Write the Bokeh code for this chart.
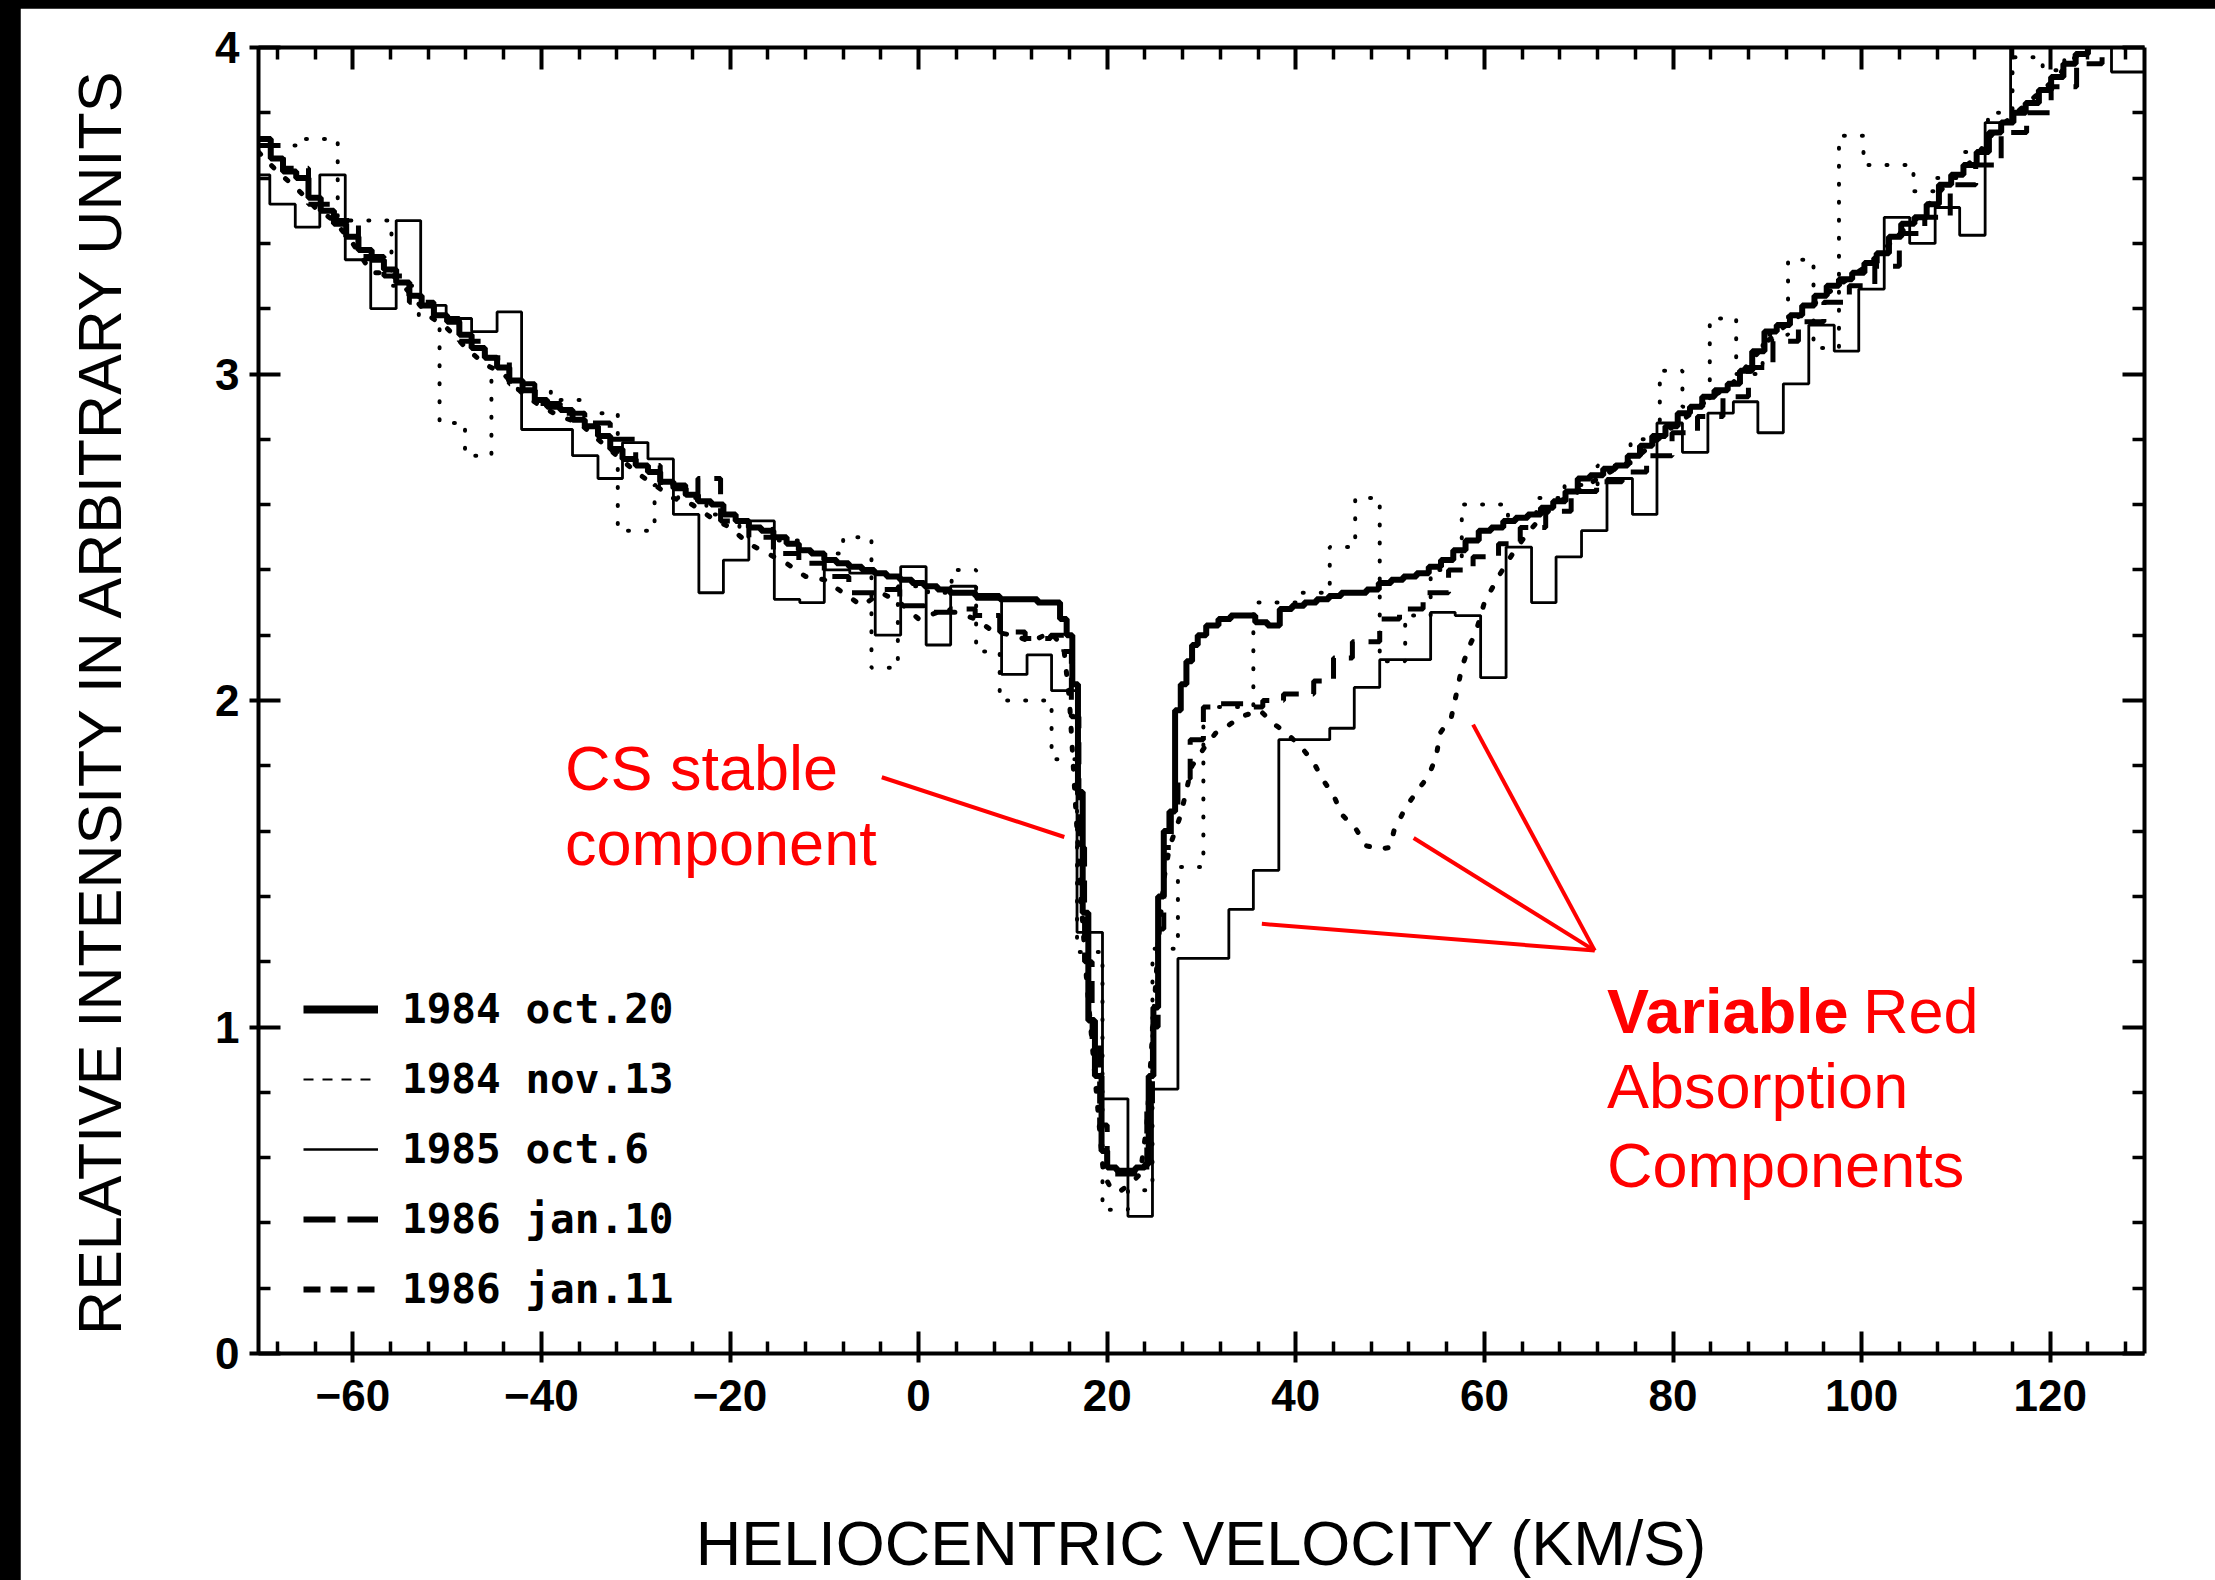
import re

from bokeh.plotting import figure
from bokeh.models import (Range1d, FixedTicker, LinearAxis, Label, Legend, LegendItem,
                          CustomJSTickFormatter)
from bokeh.embed import file_html
from bokeh.resources import INLINE

# ---------------------------------------------------------------------------
# Heliocentric velocity (km/s) and relative intensity for each observing date
# ---------------------------------------------------------------------------

# 1984 oct.20 (heavy solid step profile)
vel_oct20 = [-70.0, -68.7, -67.4, -66.0, -64.7, -63.4, -62.0, -60.7, -59.4, -58.0,
             -56.7, -55.4, -54.0, -52.7, -51.4, -50.0, -48.7, -47.4, -46.0, -44.7,
             -43.4, -42.0, -40.7, -39.4, -38.0, -36.7, -35.4, -34.0, -32.7, -31.4,
             -30.0, -28.7, -27.4, -26.0, -24.7, -23.4, -22.0, -20.7, -19.4, -18.0,
             -16.7, -15.4, -14.0, -12.7, -11.4, -10.0, -8.7, -7.4, -6.0, -4.7,
             -3.4, -2.0, -0.7, 0.6, 2.0, 3.3, 4.6, 6.0, 7.3, 8.6,
             10.0, 11.3, 12.6, 14.0, 15.0, 15.7, 16.3, 16.9, 17.4, 18.0,
             18.7, 19.4, 20.0, 21.0, 22.0, 23.0, 24.0, 24.4, 24.9, 25.4,
             26.0, 26.6, 27.2, 27.8, 28.4, 29.0, 29.6, 30.5, 31.8, 33.1,
             34.4, 35.7, 37.0, 38.3, 39.6, 40.9, 42.2, 43.5, 44.8, 46.2,
             47.5, 48.8, 50.1, 51.4, 52.8, 54.1, 55.4, 56.7, 58.0, 59.4,
             60.7, 62.0, 63.3, 64.6, 66.0, 67.3, 68.6, 69.9, 71.2, 72.6,
             73.9, 75.2, 76.5, 77.8, 79.2, 80.5, 81.8, 83.1, 84.4, 85.8,
             87.1, 88.4, 89.7, 91.0, 92.4, 93.7, 95.0, 96.3, 97.6, 99.0,
             100.3, 101.6, 102.9, 104.2, 105.6, 106.9, 108.2, 109.5, 110.8, 112.2,
             113.5, 114.8, 116.1, 117.4, 118.8, 120.1, 121.4, 122.7, 124.0, 125.3,
             130.0]
int_oct20 = [3.72, 3.66, 3.62, 3.60, 3.54, 3.50, 3.46, 3.42, 3.38, 3.35,
             3.32, 3.28, 3.24, 3.21, 3.18, 3.16, 3.12, 3.08, 3.05, 3.02,
             2.98, 2.95, 2.92, 2.90, 2.89, 2.86, 2.84, 2.81, 2.77, 2.74,
             2.72, 2.70, 2.67, 2.65, 2.63, 2.61, 2.60, 2.57, 2.55, 2.53,
             2.52, 2.50, 2.48, 2.46, 2.45, 2.43, 2.42, 2.41, 2.40, 2.39,
             2.38, 2.37, 2.36, 2.35, 2.34, 2.33, 2.33, 2.32, 2.32, 2.31,
             2.31, 2.31, 2.30, 2.30, 2.25, 2.20, 2.05, 1.72, 1.35, 1.02,
             0.85, 0.62, 0.57, 0.56, 0.56, 0.57, 0.58, 0.85, 1.06, 1.40,
             1.60, 1.66, 1.97, 2.05, 2.12, 2.17, 2.20, 2.23, 2.25, 2.26,
             2.26, 2.24, 2.23, 2.28, 2.29, 2.30, 2.31, 2.32, 2.33, 2.33,
             2.34, 2.36, 2.37, 2.38, 2.39, 2.41, 2.43, 2.46, 2.49, 2.52,
             2.53, 2.55, 2.56, 2.57, 2.59, 2.61, 2.64, 2.68, 2.69, 2.71,
             2.72, 2.75, 2.78, 2.81, 2.84, 2.88, 2.90, 2.93, 2.95, 2.97,
             3.01, 3.07, 3.13, 3.15, 3.18, 3.21, 3.24, 3.27, 3.29, 3.31,
             3.34, 3.37, 3.42, 3.46, 3.48, 3.52, 3.58, 3.61, 3.64, 3.68,
             3.74, 3.77, 3.80, 3.83, 3.87, 3.91, 3.95, 3.98, 4.02, 4.10,
             4.10]

# 1984 nov.13 (fine dotted step profile)
vel_nov13 = [-70.0, -65.8, -61.6, -55.9, -53.0, -50.8, -48.1, -45.3, -42.5, -39.0,
             -35.5, -31.9, -28.0, -25.5, -22.5, -19.0, -15.5, -12.0, -8.0, -5.0,
             -2.2, 1.0, 3.5, 6.1, 8.6, 11.3, 14.1, 16.8, 19.5, 22.2,
             24.8, 27.5, 30.2, 35.5, 40.0, 43.6, 46.3, 48.9, 51.6, 54.3,
             57.6, 62.5, 65.5, 68.5, 72.0, 75.5, 78.6, 81.0, 83.9, 86.7,
             89.5, 92.2, 94.9, 97.6, 100.2, 105.5, 108.0, 110.8, 113.4, 116.0,
             119.2, 121.5, 130.0]
int_nov13 = [3.70, 3.72, 3.47, 3.27, 3.17, 2.85, 2.75, 2.98, 2.95, 2.92,
             2.88, 2.52, 2.66, 2.62, 2.57, 2.53, 2.49, 2.45, 2.50, 2.10,
             2.35, 2.33, 2.40, 2.15, 2.00, 2.00, 1.82, 1.23, 0.44, 0.50,
             1.24, 1.49, 1.98, 2.30, 2.33, 2.47, 2.62, 2.12, 2.26, 2.40,
             2.60, 2.56, 2.62, 2.66, 2.72, 2.80, 3.01, 2.90, 3.17, 3.00,
             3.12, 3.35, 3.08, 3.73, 3.64, 3.56, 3.60, 3.68, 3.80, 3.97,
             3.93, 4.10, 4.10]

# 1985 oct.6 (thin solid step profile, coarse bins)
vel_oct6 = [-70.0, -68.8, -66.1, -63.5, -60.8, -58.1, -55.4, -52.8, -50.1, -47.4,
            -44.7, -42.1, -39.4, -36.7, -34.0, -31.4, -28.7, -26.0, -23.3, -20.7,
            -18.0, -15.3, -12.6, -10.0, -7.3, -4.6, -1.9, 0.8, 3.4, 6.1,
            8.8, 11.5, 14.1, 16.8, 19.5, 22.2, 24.8, 27.5, 30.2, 32.9,
            35.5, 38.2, 40.9, 43.6, 46.2, 48.9, 51.6, 54.3, 56.9, 59.6,
            62.3, 65.0, 67.6, 70.3, 73.0, 75.7, 78.3, 81.0, 83.7, 86.4,
            89.0, 91.7, 94.4, 97.1, 99.7, 102.4, 105.1, 107.8, 110.4, 113.1,
            115.8, 118.5, 121.1, 123.8, 126.5, 129.2, 130.0]
int_oct6 = [3.61, 3.52, 3.45, 3.61, 3.35, 3.20, 3.47, 3.21, 3.17, 3.13,
            3.19, 2.83, 2.83, 2.75, 2.68, 2.79, 2.74, 2.57, 2.33, 2.43,
            2.55, 2.31, 2.30, 2.40, 2.39, 2.20, 2.41, 2.17, 2.35, 2.31,
            2.08, 2.14, 2.03, 1.29, 0.78, 0.42, 0.81, 1.21, 1.21, 1.36,
            1.48, 1.88, 1.88, 1.915, 2.04, 2.125, 2.125, 2.27, 2.26, 2.07,
            2.47, 2.30, 2.44, 2.52, 2.68, 2.57, 2.85, 2.76, 2.88, 2.915,
            2.82, 2.97, 3.15, 3.07, 3.26, 3.48, 3.40, 3.51, 3.425, 3.77,
            4.20, 4.20, 4.20, 4.20, 3.925, 3.925, 3.925]

# 1986 jan.10 (heavy long-dash step profile)
vel_jan10 = [-70.0, -67.4, -64.7, -62.0, -59.4, -56.7, -54.0, -51.4, -48.7, -46.0,
             -43.4, -40.7, -38.0, -35.4, -32.7, -30.0, -27.4, -24.7, -23.4, -21.0,
             -18.0, -15.4, -12.7, -10.0, -7.4, -4.7, -2.0, 0.6, 3.3, 6.0,
             8.6, 11.3, 14.0, 15.4, 16.2, 17.0, 17.6, 18.4, 19.2, 20.0,
             24.2, 24.8, 25.4, 26.0, 26.8, 27.5, 28.8, 30.2, 32.0, 35.1,
             36.5, 38.7, 41.9, 44.0, 46.0, 48.9, 51.0, 53.5, 56.2, 58.8,
             61.5, 63.8, 66.5, 69.2, 71.9, 74.6, 77.2, 79.9, 82.6, 85.3,
             88.0, 90.6, 93.3, 96.0, 98.7, 101.4, 104.0, 106.7, 109.4, 112.1,
             114.8, 117.5, 120.1, 122.8, 125.5, 130.0]
int_jan10 = [3.70, 3.63, 3.52, 3.47, 3.36, 3.30, 3.22, 3.17, 3.10, 3.05,
             2.97, 2.91, 2.88, 2.85, 2.80, 2.72, 2.66, 2.62, 2.68, 2.55,
             2.50, 2.45, 2.42, 2.38, 2.33, 2.34, 2.29, 2.27, 2.28, 2.26,
             2.21, 2.19, 2.20, 2.15, 1.95, 1.55, 1.20, 0.95, 0.70, 0.55,
             0.75, 1.00, 1.30, 1.55, 1.68, 1.76, 1.88, 1.98, 1.99, 1.98,
             2.00, 2.02, 2.06, 2.13, 2.18, 2.25, 2.28, 2.33, 2.40, 2.44,
             2.48, 2.53, 2.58, 2.64, 2.67, 2.70, 2.75, 2.82, 2.87, 2.93,
             3.02, 3.10, 3.16, 3.22, 3.27, 3.33, 3.43, 3.48, 3.58, 3.64,
             3.74, 3.80, 3.88, 3.95, 4.10, 4.10]

# 1986 jan.11 (heavy short-dash profile)
vel_jan11 = [-70.0, -68.0, -66.0, -64.0, -62.0, -60.0, -58.0, -56.0, -54.0, -52.0,
             -50.0, -48.0, -46.0, -44.0, -42.0, -40.0, -38.0, -36.0, -34.0, -32.0,
             -30.0, -28.0, -26.0, -24.0, -22.0, -20.0, -18.0, -16.0, -14.0, -12.0,
             -10.0, -8.0, -6.0, -4.0, -2.0, 0.0, 2.0, 4.0, 6.0, 8.0,
             10.0, 12.0, 14.0, 15.4, 16.0, 16.6, 17.2, 17.8, 18.4, 19.0,
             19.6, 20.5, 21.5, 22.5, 23.5, 24.2, 24.8, 25.4, 26.0, 26.6,
             27.2, 27.8, 29.0, 30.4, 31.5, 32.7, 34.1, 35.2, 36.2, 37.6,
             39.0, 40.5, 41.9, 42.8, 44.0, 44.9, 46.3, 47.5, 48.9, 50.0,
             50.4, 51.6, 52.8, 54.1, 54.9, 55.3, 56.5, 57.1, 57.6, 58.3,
             59.1, 60.0, 61.5, 63.0, 64.5, 66.0, 68.0, 70.0, 72.0, 74.0,
             76.0, 78.0, 80.0, 82.0, 84.0, 86.0, 88.0, 90.0, 92.0, 94.0,
             96.0, 98.0, 100.0, 102.0, 104.0, 106.0, 108.0, 110.0, 112.0, 114.0,
             116.0, 118.0, 120.0, 122.0, 124.0, 126.0, 130.0]
int_jan11 = [3.68, 3.62, 3.57, 3.51, 3.47, 3.40, 3.31, 3.31, 3.25, 3.18,
             3.14, 3.08, 3.03, 3.00, 2.94, 2.90, 2.87, 2.85, 2.80, 2.75,
             2.70, 2.66, 2.62, 2.60, 2.56, 2.53, 2.48, 2.45, 2.42, 2.38,
             2.37, 2.33, 2.29, 2.33, 2.30, 2.25, 2.27, 2.27, 2.25, 2.21,
             2.20, 2.18, 2.21, 2.16, 2.00, 1.70, 1.40, 1.15, 0.95, 0.75,
             0.55, 0.50, 0.50, 0.52, 0.55, 0.70, 0.98, 1.25, 1.45, 1.55,
             1.60, 1.65, 1.80, 1.86, 1.90, 1.92, 1.95, 1.96, 1.97, 1.93,
             1.90, 1.86, 1.81, 1.76, 1.71, 1.65, 1.61, 1.555, 1.545, 1.55,
             1.60, 1.67, 1.72, 1.77, 1.83, 1.90, 1.95, 2.03, 2.10, 2.16,
             2.21, 2.30, 2.38, 2.45, 2.51, 2.56, 2.61, 2.64, 2.68, 2.71,
             2.74, 2.79, 2.84, 2.88, 2.93, 2.96, 3.03, 3.10, 3.15, 3.19,
             3.24, 3.28, 3.32, 3.37, 3.43, 3.48, 3.55, 3.61, 3.66, 3.74,
             3.79, 3.84, 3.89, 3.95, 4.01, 4.10, 4.10]

legend_labels = ["1984 oct.20", "1984 nov.13", "1985 oct.6", "1986 jan.10", "1986 jan.11"]

x_major = [-60, -40, -20, 0, 20, 40, 60, 80, 100, 120]
x_minor = [-68, -64, -56, -52, -48, -44, -36, -32, -28, -24, -16, -12, -8, -4,
           4, 8, 12, 16, 24, 28, 32, 36, 44, 48, 52, 56, 64, 68, 72, 76,
           84, 88, 92, 96, 104, 108, 112, 116, 124, 128]
y_major = [0, 1, 2, 3, 4]
y_minor = [0.2, 0.4, 0.6, 0.8, 1.2, 1.4, 1.6, 1.8, 2.2, 2.4, 2.6, 2.8,
           3.2, 3.4, 3.6, 3.8]

# Red call-outs: (x0, y0) -> (x1, y1) in data units
callout_x0 = [-3.9, 36.4, 52.5, 58.8]
callout_y0 = [1.765, 1.316, 1.579, 1.926]
callout_x1 = [15.45, 71.7, 71.7, 71.7]
callout_y1 = [1.582, 1.234, 1.234, 1.234]

RED = "#ff0000"
SANS = "Liberation Sans"
NAN = float("nan")

# ---------------------------------------------------------------------------
p = figure(width=2195, height=1572, x_range=Range1d(-70, 130), y_range=Range1d(0, 4),
           output_backend="svg", toolbar_location=None,
           min_border_left=238, min_border_right=71, min_border_top=39,
           min_border_bottom=224,
           x_axis_label="HELIOCENTRIC VELOCITY (KM/S)",
           y_axis_label="RELATIVE INTENSITY IN ARBITRARY UNITS")
p.xgrid.visible = False
p.ygrid.visible = False
p.outline_line_color = None
p.background_fill_color = "white"
p.border_fill_color = "white"

minus = "\u2212"
x_overrides = {v: (minus + str(-v) if v < 0 else str(v)) for v in x_major}

def style_axis(ax, ticks, minors, labelled):
    ax.ticker = FixedTicker(ticks=ticks, minor_ticks=minors)
    ax.axis_line_width = 4
    ax.axis_line_color = "black"
    ax.major_tick_line_width = 4
    ax.minor_tick_line_width = 3.5
    ax.major_tick_in = 22
    ax.minor_tick_in = 12
    ax.minor_tick_out = 0
    if labelled:
        ax.major_tick_out = 9
        ax.major_label_text_font = SANS
        ax.major_label_text_font_style = "bold"
        ax.major_label_text_font_size = "44px"
        ax.major_label_text_color = "black"
        ax.axis_label_text_font = SANS
        ax.axis_label_text_font_style = "normal"
        ax.axis_label_text_color = "black"
    else:
        ax.major_tick_out = 0
        ax.major_label_standoff = 0
        ax.formatter = CustomJSTickFormatter(code="return ''")

xax = p.xaxis[0]
yax = p.yaxis[0]
style_axis(xax, x_major, x_minor, True)
style_axis(yax, y_major, y_minor, True)
xax.major_label_overrides = x_overrides
xax.major_label_standoff = 17
xax.axis_label_text_font_size = "63px"
xax.axis_label_standoff = 94
yax.major_label_standoff = 10
yax.axis_label_text_font_size = "61px"
yax.axis_label_standoff = 78

top_ax = LinearAxis()
right_ax = LinearAxis()
style_axis(top_ax, x_major, x_minor, False)
style_axis(right_ax, y_major, y_minor, False)
p.add_layout(top_ax, "above")
p.add_layout(right_ax, "right")

# Spectral profiles
p.step(vel_oct6, int_oct6, mode="after", line_color="black", line_width=2.8)
p.step(vel_nov13, int_nov13, mode="after", line_color="black", line_width=4,
       line_dash="1 17", line_cap="round")
p.line(vel_jan11, int_jan11, line_color="black", line_width=5,
       line_dash="3 16", line_cap="round")
p.step(vel_jan10, int_jan10, mode="after", line_color="black", line_width=5,
       line_dash="22 14")
p.step(vel_oct20, int_oct20, mode="after", line_color="black", line_width=6)

# Legend keys (styled like the printed key, no data of their own)
leg_oct20 = p.line([NAN], [NAN], line_color="black", line_width=8)
leg_nov13 = p.line([NAN], [NAN], line_color="black", line_width=2, line_dash="10 9")
leg_oct6 = p.line([NAN], [NAN], line_color="black", line_width=2.6)
leg_jan10 = p.line([NAN], [NAN], line_color="black", line_width=6, line_dash="32 12")
leg_jan11 = p.line([NAN], [NAN], line_color="black", line_width=6, line_dash="17 10")
legend = Legend(items=[LegendItem(label=lab, renderers=[r]) for lab, r in
                       zip(legend_labels, [leg_oct20, leg_nov13, leg_oct6, leg_jan10, leg_jan11])],
                location=(45, 40), orientation="vertical",
                glyph_width=75, glyph_height=40, label_height=40,
                label_standoff=24, spacing=22, padding=0, margin=0,
                border_line_color=None, background_fill_alpha=0,
                label_text_font="DejaVu Sans Mono", label_text_font_size="41px",
                label_text_font_style="bold", label_text_color="black")
p.add_layout(legend)

# Call-outs
p.segment(x0=callout_x0, y0=callout_y0, x1=callout_x1, y1=callout_y1,
          line_color=RED, line_width=4)

def red_label(x, y, text, bold=False, x_offset=0):
    p.add_layout(Label(x=x, y=y, text=text, x_offset=x_offset,
                       text_color=RED, text_font=SANS, text_font_size="63px",
                       text_font_style="bold" if bold else "normal",
                       text_baseline="middle", text_align="left"))

red_label(-37.5, 1.793, "CS stable")
red_label(-37.5, 1.564, "component")
red_label(73.0, 1.050, "Variable", bold=True)
red_label(73.0, 1.050, "Red", x_offset=256)
red_label(73.0, 0.820, "Absorption")
red_label(73.0, 0.578, "Components")

html = file_html(p, INLINE)
# dark scan border along the top and left edges of the page
page_css = ("<style>html,body{margin:0 !important;background:#000 !important;"
            "overflow:hidden !important;}"
            "body{padding:8px 0 0 20px !important;box-sizing:border-box;}</style>")
if "</head>" in html:
    html = html.replace("</head>", page_css + "</head>", 1)
else:
    html = re.sub(r"<body([^>]*)>", lambda m: "<body" + m.group(1) + ">" + page_css, html, count=1)
open("out.html", "w").write(html)
